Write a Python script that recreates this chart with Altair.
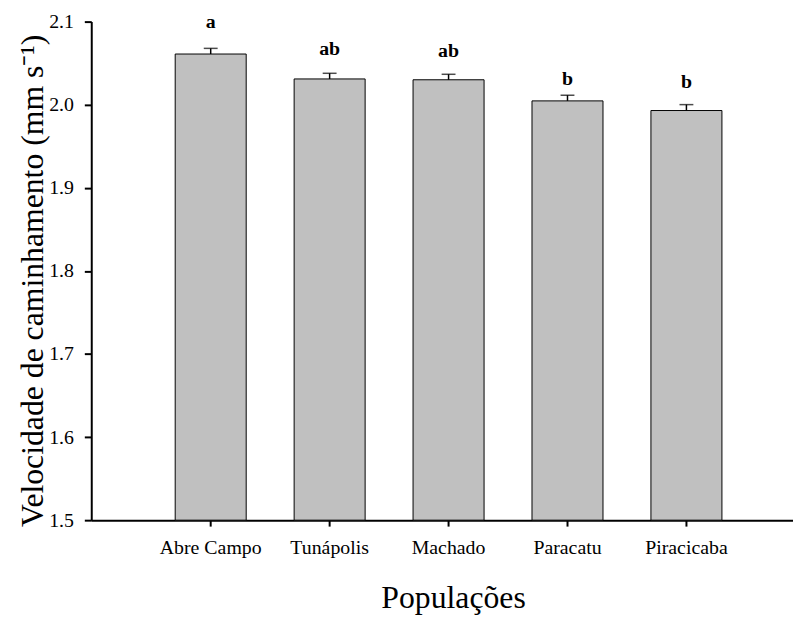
import altair as alt
import pandas as pd

populacoes = ["Abre Campo", "Tunápolis", "Machado", "Paracatu", "Piracicaba"]
medias = [2.061, 2.031, 2.030, 2.0046, 1.993]
erros = [0.0068, 0.0068, 0.0066, 0.0068, 0.0071]
letras = ["a", "ab", "ab", "b", "b"]
letra_y = [2.0928, 2.0594, 2.0571, 2.0240, 2.0201]

df = pd.DataFrame({
    "pop": populacoes,
    "media": medias,
    "sup": [m + e for m, e in zip(medias, erros)],
    "letra": letras,
    "ly": letra_y,
})

FONT = "Liberation Serif"

x = alt.X(
    "pop:N",
    sort=populacoes,
    scale=alt.Scale(paddingInner=0.403, paddingOuter=0.6517, align=0.5415),
    axis=alt.Axis(
        title="Populações",
        titleFont=FONT,
        labelFont=FONT,
        titleFontSize=32,
        titleFontWeight="normal",
        titleBaseline="alphabetic",
        titleX=365,
        titleY=88,
        labelAngle=0,
        labelFontSize=20,
        labelBaseline="alphabetic",
        labelPadding=28,
        tickSize=6,
        tickWidth=2,
        domainWidth=2,
        domainColor="black",
        tickColor="black",
        labelColor="black",
        titleColor="black",
    ),
)

yscale = alt.Scale(domain=[1.5, 2.1], zero=False, nice=False)

y_axis = alt.Axis(
    title="Velocidade de caminhamento (mm s⁻¹)",
    titleFont=FONT,
    labelFont=FONT,
    titleFontSize=32,
    titleFontWeight="normal",
    titleBaseline="alphabetic",
    titleX=-49,
    titleY=261,
    titleAngle=-90,
    values=[1.5, 1.6, 1.7, 1.8, 1.9, 2.0, 2.1],
    format=".1f",
    labelFontSize=20,
    labelPadding=11,
    tickSize=7,
    tickWidth=2,
    domainWidth=2,
    domainColor="black",
    tickColor="black",
    labelColor="black",
    titleColor="black",
    grid=False,
)

bars = alt.Chart(df).mark_bar(
    color="#c0c0c0", stroke="black", strokeWidth=1
).encode(
    x=x,
    y=alt.Y("media:Q", scale=yscale, axis=y_axis),
    y2=alt.datum(1.5),
)

err_line = alt.Chart(df).mark_rule(color="black", strokeWidth=1.5).encode(
    x=alt.X("pop:N", sort=populacoes),
    y=alt.Y("media:Q", scale=yscale),
    y2="sup:Q",
)

caps = alt.Chart(df).mark_tick(color="black", size=14, thickness=1.5).encode(
    x=alt.X("pop:N", sort=populacoes),
    y=alt.Y("sup:Q", scale=yscale),
)

labels = alt.Chart(df).mark_text(
    font=FONT, fontSize=20, fontWeight="bold", baseline="alphabetic",
    align="center", color="black"
).encode(
    x=alt.X("pop:N", sort=populacoes),
    y=alt.Y("ly:Q", scale=yscale),
    text="letra:N",
)

chart = alt.layer(bars, err_line, caps, labels).properties(
    width=708,
    height=503,
    autosize=alt.AutoSizeParams(type="none"),
    padding={"left": 84, "top": 11, "right": 0, "bottom": 99},
).configure(
    font=FONT,
).configure_view(
    stroke=None
)

chart.save("out.html", embed_options={"renderer": "svg", "actions": False})
